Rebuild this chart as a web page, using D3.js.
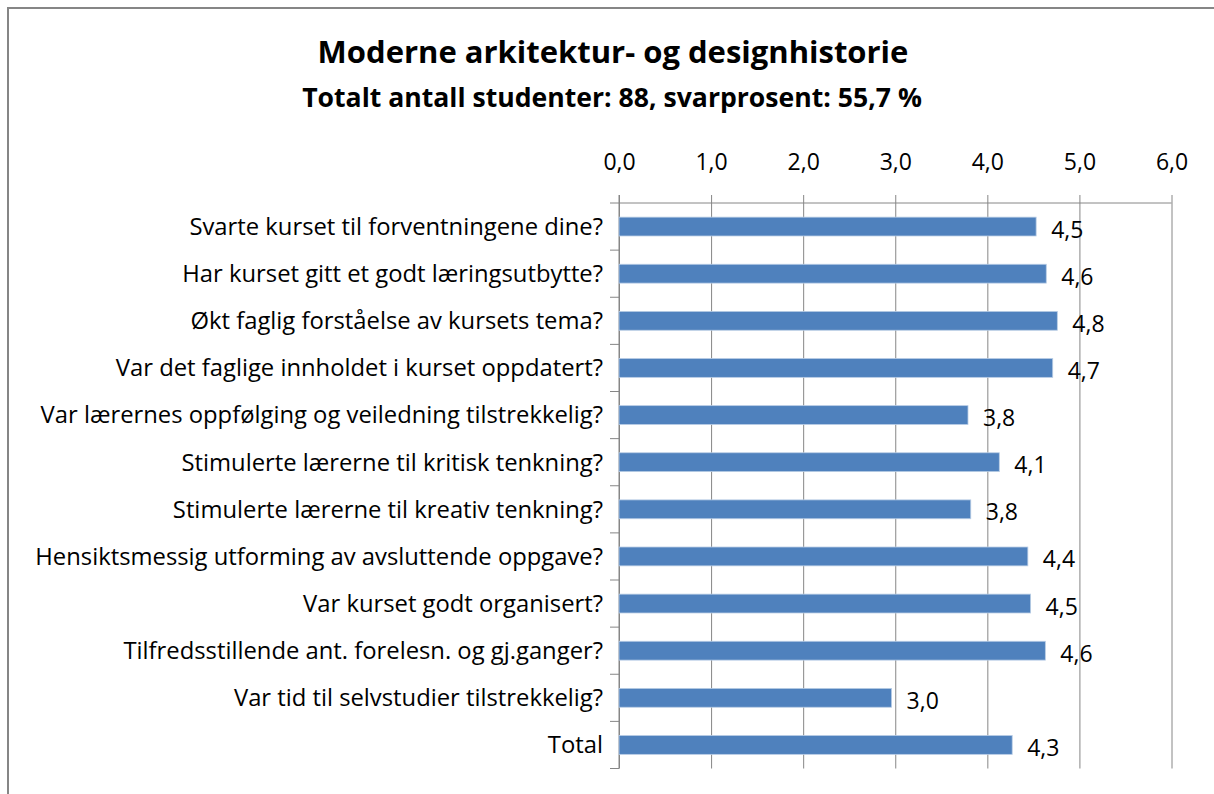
<!DOCTYPE html>
<html>
<head>
<meta charset="utf-8">
<script src="https://cdn.jsdelivr.net/npm/d3@7"></script>
<style>
  body { margin: 0; background: #fff; }
  text { font-family: "Open Sans", sans-serif; fill: #000; }
</style>
</head>
<body>
<div class="d3"></div>
<script>
// chart data
var questions = [
	"Svarte kurset til forventningene dine?",
	"Har kurset gitt et godt læringsutbytte?",
	"Økt faglig forståelse av kursets tema?",
	"Var det faglige innholdet i kurset oppdatert?",
	"Var lærernes oppfølging og veiledning tilstrekkelig?",
	"Stimulerte lærerne til kritisk tenkning?",
	"Stimulerte lærerne til kreativ tenkning?",
	"Hensiktsmessig utforming av avsluttende oppgave?",
	"Var kurset godt organisert?",
	"Tilfredsstillende ant. forelesn. og gj.ganger?",
	"Var tid til selvstudier tilstrekkelig?",
	"Total"
];
var scores = [4.53, 4.64, 4.76, 4.71, 3.79, 4.13, 3.82, 4.44, 4.47, 4.63, 2.96, 4.27];
var tickValues = [0, 1, 2, 3, 4, 5, 6];
var title = "Moderne arkitektur- og designhistorie";
var subtitle = "Totalt antall studenter: 88, svarprosent: 55,7 %";

var w = 1214;
var h = 794;
var plotL = 619, plotR = 1171.5, plotT = 203, plotB = 768.5;

var fmt = v => d3.format(".1f")(v).replace(".", ",");

var svg = d3.select(".d3")
	.append("svg")
	.attr("width", w)
	.attr("height", h);

// outer frame
svg.append("rect")
	.attr("x", 8)
	.attr("y", 8)
	.attr("width", w + 20)
	.attr("height", h + 20)
	.attr("fill", "none")
	.attr("stroke", "#868686")
	.attr("stroke-width", 2);

var xScale = d3.scaleLinear()
	.domain([0, 6])
	.range([plotL, plotR]);

var yScale = d3.scaleBand()
	.domain(questions)
	.range([plotT, plotB])
	.paddingInner(0.6)
	.paddingOuter(0.3);

// gridlines + top axis
var xAxis = d3.axisTop(xScale)
	.tickValues(tickValues)
	.tickSize(-(plotB - plotT))
	.tickFormat(fmt);

var gx = svg.append("g")
	.attr("transform", "translate(0," + plotT + ")")
	.call(xAxis);
gx.select(".domain").remove();
gx.selectAll("line")
	.attr("stroke", "#868686")
	.attr("y1", -8);
gx.selectAll("text")
	.attr("y", -33)
	.attr("font-size", "23px")
	.attr("font-family", "Open Sans");

svg.append("line")
	.attr("x1", plotL).attr("x2", plotR)
	.attr("y1", plotT).attr("y2", plotT)
	.attr("stroke", "#868686");

// left axis (band boundaries as ticks)
var boundaries = d3.range(questions.length + 1).map(i => plotT + i * (plotB - plotT) / questions.length);
svg.append("line")
	.attr("x1", plotL).attr("x2", plotL)
	.attr("y1", plotT - 8).attr("y2", plotB)
	.attr("stroke", "#868686");
svg.selectAll(".ytick")
	.data(boundaries)
	.enter().append("line")
	.attr("class", "ytick")
	.attr("x1", plotL - 9).attr("x2", plotL)
	.attr("y1", d => d).attr("y2", d => d)
	.attr("stroke", "#868686");

// category labels
svg.selectAll(".cat")
	.data(questions)
	.enter().append("text")
	.attr("class", "cat")
	.attr("x", plotL - 16)
	.attr("y", d => yScale(d) + yScale.bandwidth() / 2)
	.attr("dy", "0.35em")
	.attr("text-anchor", "end")
	.attr("font-size", "23.8px")
	.text(d => d);

// bars
svg.selectAll(".bar")
	.data(scores)
	.enter().append("rect")
	.attr("class", "bar")
	.attr("x", xScale(0))
	.attr("y", (d, i) => yScale(questions[i]))
	.attr("width", d => xScale(d) - xScale(0))
	.attr("height", yScale.bandwidth())
	.attr("fill", "#4F81BD")
	.attr("stroke", "#B9CDE5")
	.attr("stroke-width", 0.8);

// value labels
svg.selectAll(".val")
	.data(scores)
	.enter().append("text")
	.attr("class", "val")
	.attr("x", d => xScale(d) + 15)
	.attr("y", (d, i) => yScale(questions[i]) + yScale.bandwidth() / 2 + 3)
	.attr("dy", "0.35em")
	.attr("font-size", "23px")
	.text(d => fmt(d));

// titles
svg.append("text")
	.attr("x", 613)
	.attr("y", 63)
	.attr("text-anchor", "middle")
	.attr("font-size", "31px")
	.attr("font-weight", "bold")
	.text(title);

svg.append("text")
	.attr("x", 612)
	.attr("y", 107)
	.attr("text-anchor", "middle")
	.attr("font-size", "26.6px")
	.attr("font-weight", "bold")
	.text(subtitle);
</script>
</body>
</html>
